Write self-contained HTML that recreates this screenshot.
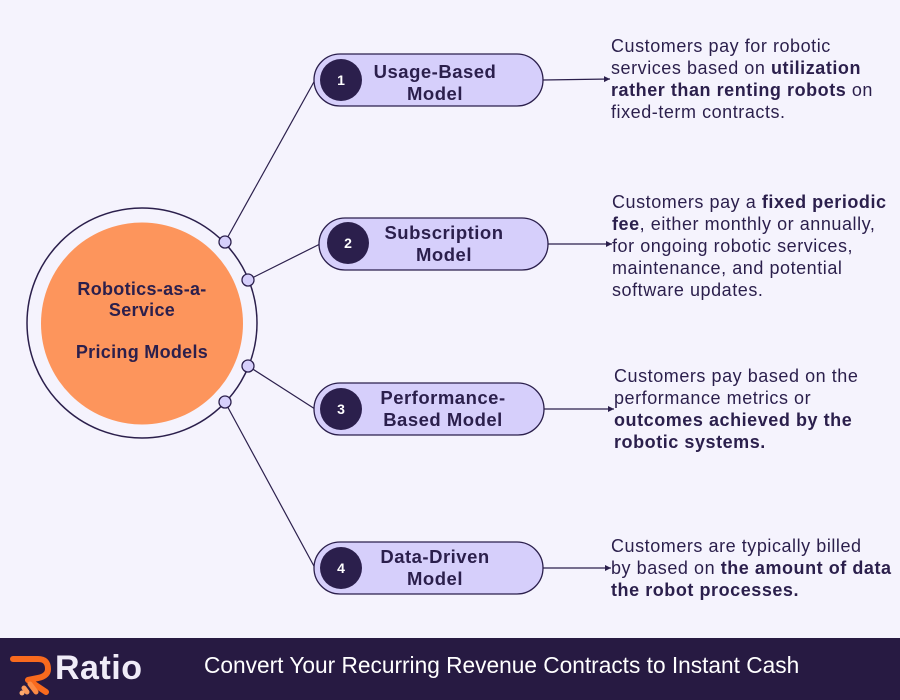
<!DOCTYPE html>
<html><head><meta charset="utf-8"><style>
body{margin:0;width:900px;height:700px;background:#f5f3fd;position:relative;overflow:hidden;font-family:"Liberation Sans","DejaVu Sans",sans-serif;color:#2b1f4c}
.t{position:absolute;font-size:18px;line-height:22px;color:#2b1f4c;letter-spacing:0.55px;white-space:nowrap}
.t b{font-weight:bold}
.p{position:absolute;font-size:18.5px;line-height:22px;font-weight:bold;text-align:center;color:#2b1f4c;letter-spacing:0.5px}
.c{position:absolute;font-size:18px;line-height:21px;font-weight:bold;text-align:center;color:#2b1f4c;letter-spacing:0.3px}
.foot{position:absolute;left:0;top:638px;width:900px;height:62px;background:#271a42}
</style></head><body>
<svg width="900" height="700" style="position:absolute;left:0;top:0">
<defs><marker id="a" markerWidth="6" markerHeight="6" refX="5" refY="3" orient="auto"><path d="M0,0.5 L5,3 L0,5.5z" fill="#2b1f4c"/></marker></defs>
<circle cx="142" cy="323" r="115" fill="none" stroke="#2b1f4c" stroke-width="1.5"/>
<circle cx="142" cy="323.5" r="101" fill="#fd955c"/>
<g stroke="#2b1f4c" stroke-width="1.2">
<line x1="225" y1="242" x2="315" y2="80"/>
<line x1="248" y1="280" x2="320" y2="244"/>
<line x1="248" y1="366" x2="315" y2="409"/>
<line x1="225" y1="402" x2="315" y2="568"/>
<line x1="543" y1="80" x2="610" y2="79" marker-end="url(#a)"/>
<line x1="548" y1="244" x2="612" y2="244" marker-end="url(#a)"/>
<line x1="544" y1="409" x2="614" y2="409" marker-end="url(#a)"/>
<line x1="543" y1="568" x2="611" y2="568" marker-end="url(#a)"/>
</g>
<g fill="#d6cffb" stroke="#2b1f4c" stroke-width="1.3">
<circle cx="225" cy="242" r="6"/><circle cx="248" cy="280" r="6"/><circle cx="248" cy="366" r="6"/><circle cx="225" cy="402" r="6"/>
<rect x="314" y="54" width="229" height="52" rx="26"/>
<rect x="319" y="218" width="229" height="52" rx="26"/>
<rect x="314" y="383" width="230" height="52" rx="26"/>
<rect x="314" y="542" width="229" height="52" rx="26"/>
</g>
<g fill="#2b1f4c"><circle cx="341" cy="80" r="21"/><circle cx="348" cy="243" r="21"/><circle cx="341" cy="409" r="21"/><circle cx="341" cy="568" r="21"/></g>
<g fill="#fff" font-size="14" font-weight="bold" text-anchor="middle" font-family="Liberation Sans,sans-serif">
<text x="341" y="85">1</text><text x="348" y="248">2</text><text x="341" y="414">3</text><text x="341" y="573">4</text></g>
</svg>
<div class="c" style="left:42px;top:279px;width:200px">Robotics-as-a-<br>Service<br><br>Pricing Models</div>
<div class="p" style="left:345px;top:61px;width:180px">Usage-Based<br>Model</div>
<div class="p" style="left:359px;top:222px;width:170px">Subscription<br>Model</div>
<div class="p" style="left:353px;top:387px;width:180px">Performance-<br>Based Model</div>
<div class="p" style="left:350px;top:546px;width:170px">Data-Driven<br>Model</div>
<div class="t" style="left:611px;top:35px">Customers pay for robotic<br>services based on <b>utilization<br>rather than renting robots</b> on<br>fixed-term contracts.</div>
<div class="t" style="left:612px;top:191px">Customers pay a <b>fixed periodic<br>fee</b>, either monthly or annually,<br>for ongoing robotic services,<br>maintenance, and potential<br>software updates.</div>
<div class="t" style="left:614px;top:365px">Customers pay based on the<br>performance metrics or<br><b>outcomes achieved by the<br>robotic systems.</b></div>
<div class="t" style="left:611px;top:535px">Customers are typically billed<br>by based on <b>the amount of data<br>the robot processes.</b></div>
<div class="foot">
<svg width="50" height="50" style="position:absolute;left:8px;top:8px">
<path d="M5,13 H30 Q40,13 40,23 Q40,30 30,32 L20,34 L38,46" fill="none" stroke="#f86a1e" stroke-width="6" stroke-linecap="round" stroke-linejoin="round"/>
<path d="M22,38 L28,46" stroke="#fb8a45" stroke-width="5" stroke-linecap="round"/>
<path d="M16,42 L19,46" stroke="#fb9a5c" stroke-width="5" stroke-linecap="round"/>
<circle cx="14" cy="47" r="2.5" fill="#fcaa70"/>
</svg>
<div style="position:absolute;left:55px;top:11px;font-size:34px;font-weight:bold;color:#f0ecf8;letter-spacing:0.5px">Ratio</div>
<div style="position:absolute;left:204px;top:14px;font-size:22.7px;color:#fff">Convert Your Recurring Revenue Contracts to Instant Cash</div>
</div>
</body></html>
